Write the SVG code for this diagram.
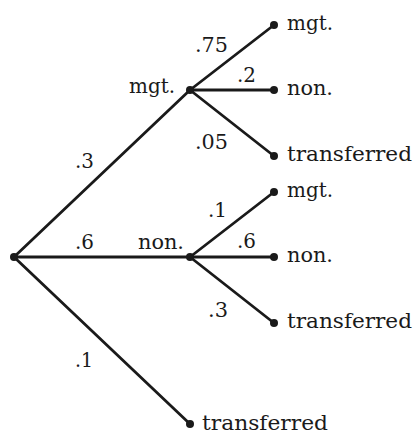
<svg xmlns="http://www.w3.org/2000/svg" width="417" height="437" viewBox="0 0 417 437">
<style>
.e{stroke:#1a1a1a;stroke-width:2.8;fill:none;stroke-linecap:round}
.d{fill:#1a1a1a}
text{font-family:"DejaVu Serif","Liberation Serif",serif;font-size:21px;fill:#1a1a1a}
</style>
<rect width="417" height="437" fill="#fff"/>
<g id="connectors">
<line class="e" x1="14" y1="257" x2="190" y2="90"/>
<line class="e" x1="14" y1="257" x2="190" y2="257"/>
<line class="e" x1="14" y1="257" x2="190" y2="424"/>
<line class="e" x1="190" y1="90" x2="274" y2="25"/>
<line class="e" x1="190" y1="90" x2="274" y2="90"/>
<line class="e" x1="190" y1="90" x2="274" y2="156"/>
<line class="e" x1="190" y1="257" x2="274" y2="192"/>
<line class="e" x1="190" y1="257" x2="274" y2="257"/>
<line class="e" x1="190" y1="257" x2="274" y2="323"/>
<text x="75" y="168" textLength="19" lengthAdjust="spacingAndGlyphs">.3</text>
<text x="75" y="249" textLength="19" lengthAdjust="spacingAndGlyphs">.6</text>
<text x="75" y="367" textLength="18" lengthAdjust="spacingAndGlyphs">.1</text>
<text x="195" y="52" textLength="33" lengthAdjust="spacingAndGlyphs">.75</text>
<text x="237" y="82" textLength="19" lengthAdjust="spacingAndGlyphs">.2</text>
<text x="195" y="149" textLength="33" lengthAdjust="spacingAndGlyphs">.05</text>
<text x="208" y="217" textLength="19" lengthAdjust="spacingAndGlyphs">.1</text>
<text x="237" y="248" textLength="19" lengthAdjust="spacingAndGlyphs">.6</text>
<text x="208" y="317" textLength="20" lengthAdjust="spacingAndGlyphs">.3</text>
</g>
<g id="root"><circle class="d" cx="14" cy="257" r="4"/></g>
<g id="n-mgt"><circle class="d" cx="190" cy="90" r="4"/><text x="129" y="93" textLength="46" lengthAdjust="spacingAndGlyphs">mgt.</text></g>
<g id="n-non"><circle class="d" cx="190" cy="257" r="4"/><text x="138" y="249" textLength="46" lengthAdjust="spacingAndGlyphs">non.</text></g>
<g id="n-trans"><circle class="d" cx="190" cy="424" r="4"/><text x="202" y="430" textLength="126" lengthAdjust="spacingAndGlyphs">transferred</text></g>
<g id="l-mm"><circle class="d" cx="274" cy="25" r="4"/><text x="287" y="30" textLength="46" lengthAdjust="spacingAndGlyphs">mgt.</text></g>
<g id="l-mn"><circle class="d" cx="274" cy="90" r="4"/><text x="287" y="95" textLength="46" lengthAdjust="spacingAndGlyphs">non.</text></g>
<g id="l-mt"><circle class="d" cx="274" cy="156" r="4"/><text x="287" y="161" textLength="125" lengthAdjust="spacingAndGlyphs">transferred</text></g>
<g id="l-nm"><circle class="d" cx="274" cy="192" r="4"/><text x="287" y="197" textLength="46" lengthAdjust="spacingAndGlyphs">mgt.</text></g>
<g id="l-nn"><circle class="d" cx="274" cy="257" r="4"/><text x="287" y="262" textLength="46" lengthAdjust="spacingAndGlyphs">non.</text></g>
<g id="l-nt"><circle class="d" cx="274" cy="323" r="4"/><text x="287" y="328" textLength="125" lengthAdjust="spacingAndGlyphs">transferred</text></g>
</svg>
